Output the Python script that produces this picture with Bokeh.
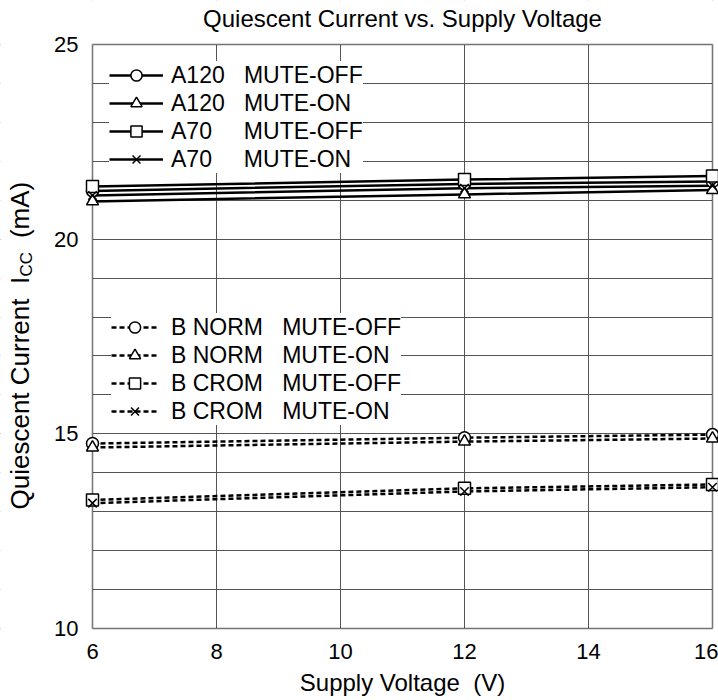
from bokeh.plotting import figure
from bokeh.models import Range1d, FixedTicker, Legend, LegendItem, Label, BoxAnnotation
from bokeh.embed import file_html
from bokeh.resources import INLINE

# ---------------- data ----------------
supply_v = [6, 12, 16]
a120_mute_off = [21.24, 21.42, 21.48]
a120_mute_on = [20.97, 21.15, 21.26]
a70_mute_off = [21.35, 21.53, 21.62]
a70_mute_on = [21.12, 21.31, 21.37]
bnorm_mute_off = [14.75, 14.90, 14.98]
bnorm_mute_on = [14.65, 14.80, 14.88]
bcrom_mute_off = [13.30, 13.60, 13.70]
bcrom_mute_on = [13.22, 13.52, 13.63]

x_ticks = [6, 8, 10, 12, 14, 16]
y_ticks = [10, 15, 20, 25]
y_minor = list(range(10, 26))
x_lim = (6, 16)
y_lim = (10, 25)

title_text = "Quiescent Current vs. Supply Voltage"
x_label = "Supply Voltage\u00a0\u00a0(V)"
y_label_main = "Quiescent Current\u00a0\u00a0I"
y_label_sub = "CC"
y_label_unit = "\u00a0\u00a0(mA)"

group_a = [
    ("A120\u00a0\u00a0\u00a0MUTE-OFF", a120_mute_off, "circle"),
    ("A120\u00a0\u00a0\u00a0MUTE-ON", a120_mute_on, "triangle"),
    ("A70\u00a0\u00a0\u00a0\u00a0\u00a0MUTE-OFF", a70_mute_off, "square"),
    ("A70\u00a0\u00a0\u00a0\u00a0\u00a0MUTE-ON", a70_mute_on, "x"),
]
group_b = [
    ("B\u00a0NORM\u00a0\u00a0\u00a0MUTE-OFF", bnorm_mute_off, "circle"),
    ("B\u00a0NORM\u00a0\u00a0\u00a0MUTE-ON", bnorm_mute_on, "triangle"),
    ("B\u00a0CROM\u00a0\u00a0\u00a0MUTE-OFF", bcrom_mute_off, "square"),
    ("B\u00a0CROM\u00a0\u00a0\u00a0MUTE-ON", bcrom_mute_on, "x"),
]

# ---------------- layout ----------------
FONT = "Liberation Sans"
BOX_X, BOX_Y = 92, 44            # page position of the plotting box (top-left)
BOX_W, BOX_H = 620, 584
CANVAS_W, CANVAS_H = 718, 698
PAD_L, PAD_T = BOX_X, BOX_Y
PAD_R = CANVAS_W - BOX_X - BOX_W
PAD_B = CANVAS_H - BOX_Y - BOX_H

ux = (x_lim[1] - x_lim[0]) / BOX_W
uy = (y_lim[1] - y_lim[0]) / BOX_H
x_rng = Range1d(x_lim[0] - PAD_L * ux, x_lim[1] + PAD_R * ux)
y_rng = Range1d(y_lim[0] - PAD_B * uy, y_lim[1] + PAD_T * uy)

p = figure(frame_width=CANVAS_W, frame_height=CANVAS_H, x_range=x_rng, y_range=y_rng,
           output_backend="svg", toolbar_location=None,
           min_border_left=0, min_border_right=0, min_border_top=0,
           min_border_bottom=0, background_fill_color="white",
           border_fill_color="white")
p.outline_line_color = None

for ax in (p.xaxis, p.yaxis):
    ax.axis_line_color = None
    ax.major_tick_line_color = None
    ax.minor_tick_line_color = None
    ax.major_label_text_font = FONT
    ax.major_label_text_font_size = "22px"
    ax.major_label_text_color = "black"

p.xaxis.ticker = FixedTicker(ticks=x_ticks)
p.yaxis.ticker = FixedTicker(ticks=y_ticks, minor_ticks=y_minor)
p.yaxis.fixed_location = x_lim[0]
p.xaxis.fixed_location = y_lim[0]
p.xaxis.major_label_standoff = 9
p.yaxis.major_label_standoff = 8

grid_col = "#555555"
p.xgrid.grid_line_color = grid_col
p.ygrid.grid_line_color = grid_col
p.ygrid.minor_grid_line_color = grid_col
p.xgrid.grid_line_width = 1
p.ygrid.grid_line_width = 1
p.ygrid.minor_grid_line_width = 1

# white covers outside the plotting box, then the box outline
for kw in (dict(right=x_lim[0]), dict(left=x_lim[1]),
           dict(top=y_lim[0]), dict(bottom=y_lim[1])):
    p.add_layout(BoxAnnotation(fill_color="white", fill_alpha=1.0, line_alpha=0,
                               level="underlay", **kw))
p.add_layout(BoxAnnotation(left=x_lim[0], right=x_lim[1], bottom=y_lim[0], top=y_lim[1],
                           fill_color=None, fill_alpha=0, line_color="black",
                           line_width=2, level="underlay"))

# ---------------- series ----------------
def add_series(group, dash):
    lines = []
    for label, vals, mk in group:
        lines.append(p.line(supply_v, vals, line_color="black", line_width=2.5,
                            line_dash=dash))
    items = []
    for (label, vals, mk), lr in zip(group, lines):
        sr = p.scatter(supply_v, vals, marker=mk, size=12, fill_color="white",
                       line_color="black", line_width=1.5)
        items.append(LegendItem(label=label, renderers=[lr, sr]))
    return items

items_a = add_series(group_a, "solid")
items_b = add_series(group_b, "5 3")

def make_legend(items, loc, glyph_w, standoff):
    leg = Legend(items=items, location=loc, glyph_width=glyph_w, glyph_height=28,
                 label_height=28, label_standoff=standoff, spacing=0, padding=4,
                 margin=0, border_line_color=None, background_fill_color="white",
                 background_fill_alpha=1.0, label_text_font=FONT,
                 label_text_font_size="23px", label_text_color="black")
    p.add_layout(leg)

# legend locations: (left, bottom) of the box, in px from the frame's bottom-left
make_legend(items_a, (109, CANVAS_H - 173), 54, 8)
make_legend(items_b, (111, CANVAS_H - 425), 47, 13)

# ---------------- texts (screen units, frame relative) ----------------
def sy(page_y):
    return CANVAS_H - page_y

box_cx = BOX_X + BOX_W / 2
p.add_layout(Label(x=box_cx, y=sy(18), x_units="screen", y_units="screen",
                   text=title_text, text_align="center", text_baseline="middle",
                   text_font=FONT, text_font_size="24px", text_color="black"))
p.add_layout(Label(x=box_cx, y=sy(682), x_units="screen", y_units="screen",
                   text=x_label, text_align="center", text_baseline="middle",
                   text_font=FONT, text_font_size="24px", text_color="black"))

y_start = 509          # page y of the y label's lower end
parts = [(y_label_main, 0, 0, "26px"),
         (y_label_sub, 233, 7, "17px"),
         (y_label_unit, 257, 0, "26px")]
for txt, off, xs, fs in parts:
    p.add_layout(Label(x=19 + xs, y=sy(y_start - off), x_units="screen",
                       y_units="screen", text=txt, angle=90, angle_units="deg",
                       text_align="left", text_baseline="middle",
                       text_font=FONT, text_font_size=fs, text_color="black"))

open("out.html", "w").write(file_html(p, INLINE))
